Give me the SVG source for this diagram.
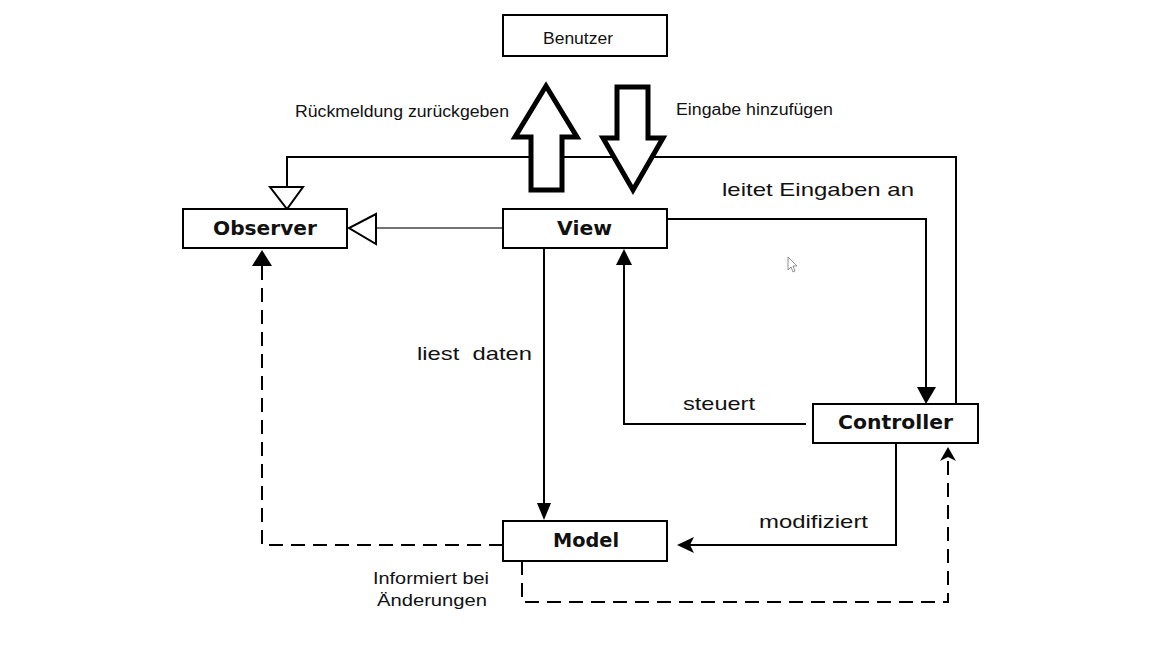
<svg xmlns="http://www.w3.org/2000/svg" width="1152" height="648" viewBox="0 0 1152 648">
<style>
.box{fill:#fff;stroke:#000;stroke-width:2}
.ln{fill:none;stroke:#000;stroke-width:2}
.dash{fill:none;stroke:#000;stroke-width:2;stroke-dasharray:14 8}
.head{fill:#000;stroke:none}
.hollow{fill:#fff;stroke:#000;stroke-width:2}
.big{fill:#fff;stroke:#000;stroke-width:5;stroke-linejoin:miter}
.lbl{font-family:"Liberation Sans",Arial,sans-serif;font-size:19px;fill:#111}
.sm{font-family:"Liberation Sans",Arial,sans-serif;font-size:16px;fill:#111}
.nm{font-family:"DejaVu Sans","Verdana",sans-serif;font-weight:bold;font-size:19px;fill:#111}
</style>
<rect width="1152" height="648" fill="#fff"/>
<g id="connectors">
  <polyline class="ln" points="956,403 956,157 287,157 287,187"/>
  <polygon class="hollow" points="270,187 303,187 287,209"/>
  <line x1="503" y1="228" x2="376" y2="228" stroke="#444" stroke-width="1.5"/>
  <polygon class="hollow" points="376,214 376,244 349,228"/>
  <polyline class="ln" points="667,219 926,219 926,389"/>
  <polygon class="head" points="917,387 936,387 926,404"/>
  <polyline class="ln" points="806,424 624,424 624,264"/>
  <polygon class="head" points="616,265 632,265 624,249"/>
  <line class="ln" x1="544" y1="248" x2="544" y2="504"/>
  <polygon class="head" points="537,503 551,503 544,520"/>
  <polyline class="ln" points="896,443 896,545 688,545"/>
  <polygon class="head" points="677,545 694,537 690,545 694,553"/>
  <polyline class="dash" points="503,545 262,545 262,266"/>
  <polygon class="head" points="252,266 272,266 262,250"/>
  <polyline class="dash" points="522,561 522,602 948,602 948,457"/>
  <polygon class="head" points="948,447 956,461 948,457 940,461"/>
  <polygon class="big" points="546,86 577,137 562,137 562,190 531,190 531,137 515,137"/>
  <polygon class="big" points="617,87 648,87 648,138 663,138 633,190 603,138 617,138"/>
</g>
<g id="node-benutzer">
  <rect class="box" x="503" y="15" width="164" height="41"/>
  <text class="sm" x="543" y="44" font-size="15" textLength="70" lengthAdjust="spacingAndGlyphs">Benutzer</text>
</g>
<g id="node-observer">
  <rect class="box" x="183" y="209" width="164" height="39"/>
  <text class="nm" x="213" y="235" textLength="104" lengthAdjust="spacingAndGlyphs">Observer</text>
</g>
<g id="node-view">
  <rect class="box" x="503" y="209" width="164" height="39"/>
  <text class="nm" x="557" y="235" textLength="55" lengthAdjust="spacingAndGlyphs">View</text>
</g>
<g id="node-controller">
  <rect class="box" x="813" y="404" width="165" height="39"/>
  <text class="nm" x="838" y="429" textLength="115" lengthAdjust="spacingAndGlyphs">Controller</text>
</g>
<g id="node-model">
  <rect class="box" x="503" y="521" width="164" height="40"/>
  <text class="nm" x="553" y="547" textLength="66" lengthAdjust="spacingAndGlyphs">Model</text>
</g>
<g id="labels">
  <text class="sm" x="295" y="117" textLength="214" lengthAdjust="spacingAndGlyphs">Rückmeldung zurückgeben</text>
  <text class="sm" x="676" y="115" textLength="157" lengthAdjust="spacingAndGlyphs">Eingabe hinzufügen</text>
  <text class="lbl" x="722" y="196" textLength="192" lengthAdjust="spacingAndGlyphs">leitet Eingaben an</text>
  <text class="lbl" x="417" y="360" xml:space="preserve" textLength="115" lengthAdjust="spacingAndGlyphs">liest  daten</text>
  <text class="lbl" x="683" y="410" textLength="72" lengthAdjust="spacingAndGlyphs">steuert</text>
  <text class="lbl" x="759" y="528" textLength="109" lengthAdjust="spacingAndGlyphs">modifiziert</text>
  <text class="sm" x="373" y="584" textLength="116" lengthAdjust="spacingAndGlyphs">Informiert bei</text>
  <text class="sm" x="377" y="606" textLength="110" lengthAdjust="spacingAndGlyphs">Änderungen</text>
</g>
<polygon points="788,257 788,270 791,267 793,272 795,271 793,266 797,266" fill="#fff" stroke="#777" stroke-width="0.8"/>
</svg>
